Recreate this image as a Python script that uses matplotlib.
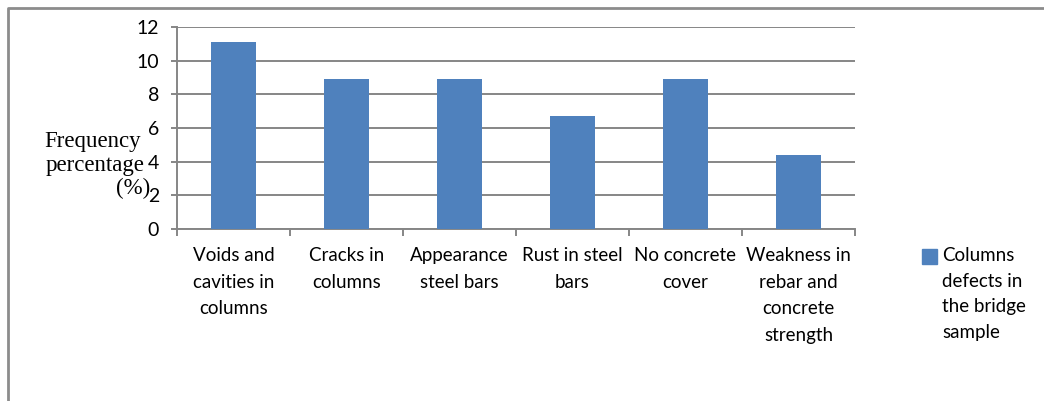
import matplotlib
matplotlib.use("Agg")
import matplotlib.pyplot as plt
from matplotlib.lines import Line2D
from matplotlib.patches import Rectangle

categories = [
    "Voids and\ncavities in\ncolumns",
    "Cracks in\ncolumns",
    "Appearance\nsteel bars",
    "Rust in steel\nbars",
    "No concrete\ncover",
    "Weakness in\nrebar and\nconcrete\nstrength",
]
values = [11.1, 8.9, 8.9, 6.7, 8.9, 4.4]
yticks = [0, 2, 4, 6, 8, 10, 12]
series_name = "Columns\ndefects in\nthe bridge\nsample"

bar_color = "#4f81bd"
grid_color = "#868686"
sans = ["Lato", "DejaVu Sans"]
serif = ["Liberation Serif", "DejaVu Serif"]

fig = plt.figure(figsize=(10.44, 4.01), dpi=100)
W, H = 1044, 401

ax = fig.add_axes([177 / W, 1 - 229 / H, (855 - 177) / W, (229 - 27) / H])
x = list(range(len(categories)))
ax.bar(x, values, width=0.39, color=bar_color, zorder=3)

ax.set_xlim(-0.5, len(categories) - 0.5)
ax.set_ylim(0, 12)
ax.set_yticks(yticks)
ax.set_yticklabels([str(v) for v in yticks], fontfamily=sans, fontsize=14)
ax.yaxis.grid(True, color=grid_color, linewidth=1.4, zorder=0)
ax.tick_params(axis="y", length=4, width=1.4, color=grid_color, pad=9)

# category labels centred under each bar, ticks on category boundaries
ax.set_xticks(x)
ax.set_xticklabels(categories, fontfamily=sans, fontsize=13.5, linespacing=1.68, va="top")
ax.tick_params(axis="x", which="major", length=0, pad=13)
ax.set_xticks([i - 0.5 for i in range(len(categories) + 1)], minor=True)
ax.tick_params(axis="x", which="minor", length=5, width=1.4, color=grid_color)

for side in ("top", "right"):
    ax.spines[side].set_visible(False)
for side in ("left", "bottom"):
    ax.spines[side].set_color(grid_color)
    ax.spines[side].set_linewidth(1.4)

# y-axis title, drawn horizontally to the left of the tick labels
fig.text(93 / W, 1 - 142 / H, "Frequency", ha="center", va="center",
         fontfamily=serif, fontsize=16.5)
fig.text(95 / W, 1 - 165 / H, "percentage", ha="center", va="center",
         fontfamily=serif, fontsize=16.5)
fig.text(133 / W, 1 - 188 / H, "(%)", ha="center", va="center",
         fontfamily=serif, fontsize=16.5)

# legend entry
fig.patches.append(Rectangle((922 / W, 1 - 264 / H), 15 / W, 15 / H,
                             transform=fig.transFigure, color=bar_color))
fig.text(942 / W, 1 - 247 / H, series_name, ha="left", va="top",
         fontfamily=sans, fontsize=13.5, linespacing=1.62)

# chart frame
fig.lines.append(Line2D([7.5 / W, 7.5 / W, 1.0], [0.0, 1 - 7.5 / H, 1 - 7.5 / H],
                        transform=fig.transFigure, color="#8c8c8c", linewidth=2))

fig.savefig("out.png", dpi=100)
